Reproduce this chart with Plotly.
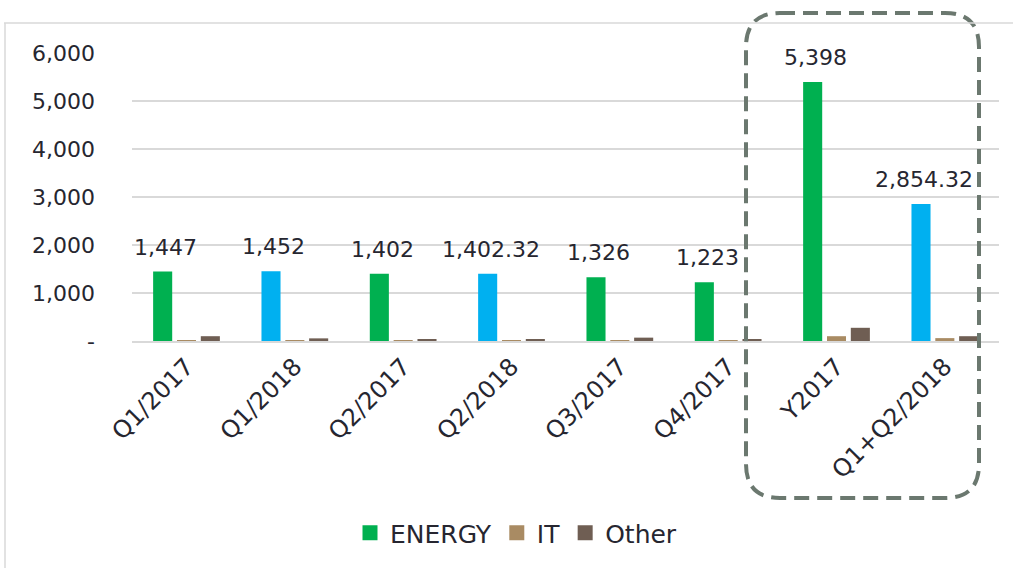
import plotly.graph_objects as go

categories = ["Q1/2017", "Q1/2018", "Q2/2017", "Q2/2018", "Q3/2017", "Q4/2017", "Y2017", "Q1+Q2/2018"]
energy = [1447, 1452, 1402, 1402.32, 1326, 1223, 5398, 2854.32]
it_vals = [12, 10, 10, 15, 12, 10, 100, 60]
other = [100, 55, 40, 40, 70, 40, 275, 100]
tick_vals = [0, 1000, 2000, 3000, 4000, 5000, 6000]
tick_text = ["-", "1,000", "2,000", "3,000", "4,000", "5,000", "6,000"]
series_names = ["ENERGY", "IT", "Other"]

GREEN = "#00B050"
BLUE = "#00B0F0"
IT_C = "#A98B63"
OTHER_C = "#6F5E53"
energy_colors = [BLUE if "2018" in c else GREEN for c in categories]

def fmt(v):
    if float(v).is_integer():
        return f"{int(v):,}"
    return f"{v:,.2f}"

FONT = "DejaVu Sans"
TXT = "#262630"

fig = go.Figure()
fig.add_bar(x=categories, y=energy, name="ENERGY", showlegend=False,
            marker=dict(color=energy_colors, line=dict(width=0)))
fig.add_bar(x=categories, y=it_vals, name="IT", showlegend=False,
            marker=dict(color=IT_C, line=dict(width=0)))
fig.add_bar(x=categories, y=other, name="Other", showlegend=False,
            marker=dict(color=OTHER_C, line=dict(width=0)))

# legend entries with larger square swatches
for nm, col in zip(series_names, [GREEN, IT_C, OTHER_C]):
    fig.add_scatter(x=[None], y=[None], mode="markers", name=nm,
                    marker=dict(symbol="square", size=15, color=col))

# data labels above the ENERGY bars
for c, v in zip(categories, energy):
    fig.add_annotation(x=c, y=v, text=fmt(v), showarrow=False, xref="x", yref="y",
                       xanchor="center", yanchor="bottom", xshift=-21, yshift=10,
                       font=dict(size=22, color=TXT, family=FONT))

W, H = 1014, 568
L, R, T, B = 132, 15, 53, 227
pw, ph = W - L - R, H - T - B

def px(x):
    return (x - L) / pw

def py(y):
    return (H - B - y) / ph

# rounded dashed rectangle
x0, x1, y0, y1, r = 746, 979, 13, 498, 34
rx, ry = r / pw, r / ph
X0, X1, Y0, Y1 = px(x0), px(x1), py(y0), py(y1)
path = (f"M {X0+rx},{Y0} L {X1-rx},{Y0} Q {X1},{Y0} {X1},{Y0-ry} "
        f"L {X1},{Y1+ry} Q {X1},{Y1} {X1-rx},{Y1} "
        f"L {X0+rx},{Y1} Q {X0},{Y1} {X0},{Y1+ry} "
        f"L {X0},{Y0-ry} Q {X0},{Y0} {X0+rx},{Y0} Z")

shapes = [
    dict(type="path", xref="paper", yref="paper", path=path,
         line=dict(color="#6B786F", width=4, dash="15px,8px"), layer="above"),
    dict(type="line", xref="paper", yref="paper", x0=px(4), x1=px(1013), y0=py(23), y1=py(23),
         line=dict(color="#D9D9D9", width=1.5)),
    dict(type="line", xref="paper", yref="paper", x0=px(5), x1=px(5), y0=py(23), y1=py(568),
         line=dict(color="#D9D9D9", width=1.5)),
]

fig.update_layout(
    width=W, height=H,
    margin=dict(l=L, r=R, t=T, b=B, autoexpand=False),
    paper_bgcolor="white", plot_bgcolor="white",
    barmode="group", bargap=0.34, bargroupgap=0.2,
    font=dict(family=FONT, color=TXT, size=22),
    showlegend=True,
    legend=dict(orientation="h", x=px(350), xanchor="left", y=py(533), yanchor="middle",
                font=dict(size=25, family=FONT, color=TXT), itemwidth=30, traceorder="normal"),
    shapes=shapes,
    xaxis=dict(tickangle=-45, tickfont=dict(size=24, family=FONT, color=TXT), showline=True,
               linecolor="#D9D9D9", linewidth=2, ticks="", showgrid=False, automargin=False),
    yaxis=dict(range=[0, 6000], tickvals=tick_vals, ticktext=tick_text, showgrid=True,
               gridcolor="#D9D9D9", gridwidth=1.5, zeroline=False, ticks="", automargin=False,
               tickfont=dict(size=22, family=FONT, color=TXT), ticklabelstandoff=36),
)

fig.write_html("out.html", config={"displayModeBar": False},
               post_script="document.body.style.margin='0';")
